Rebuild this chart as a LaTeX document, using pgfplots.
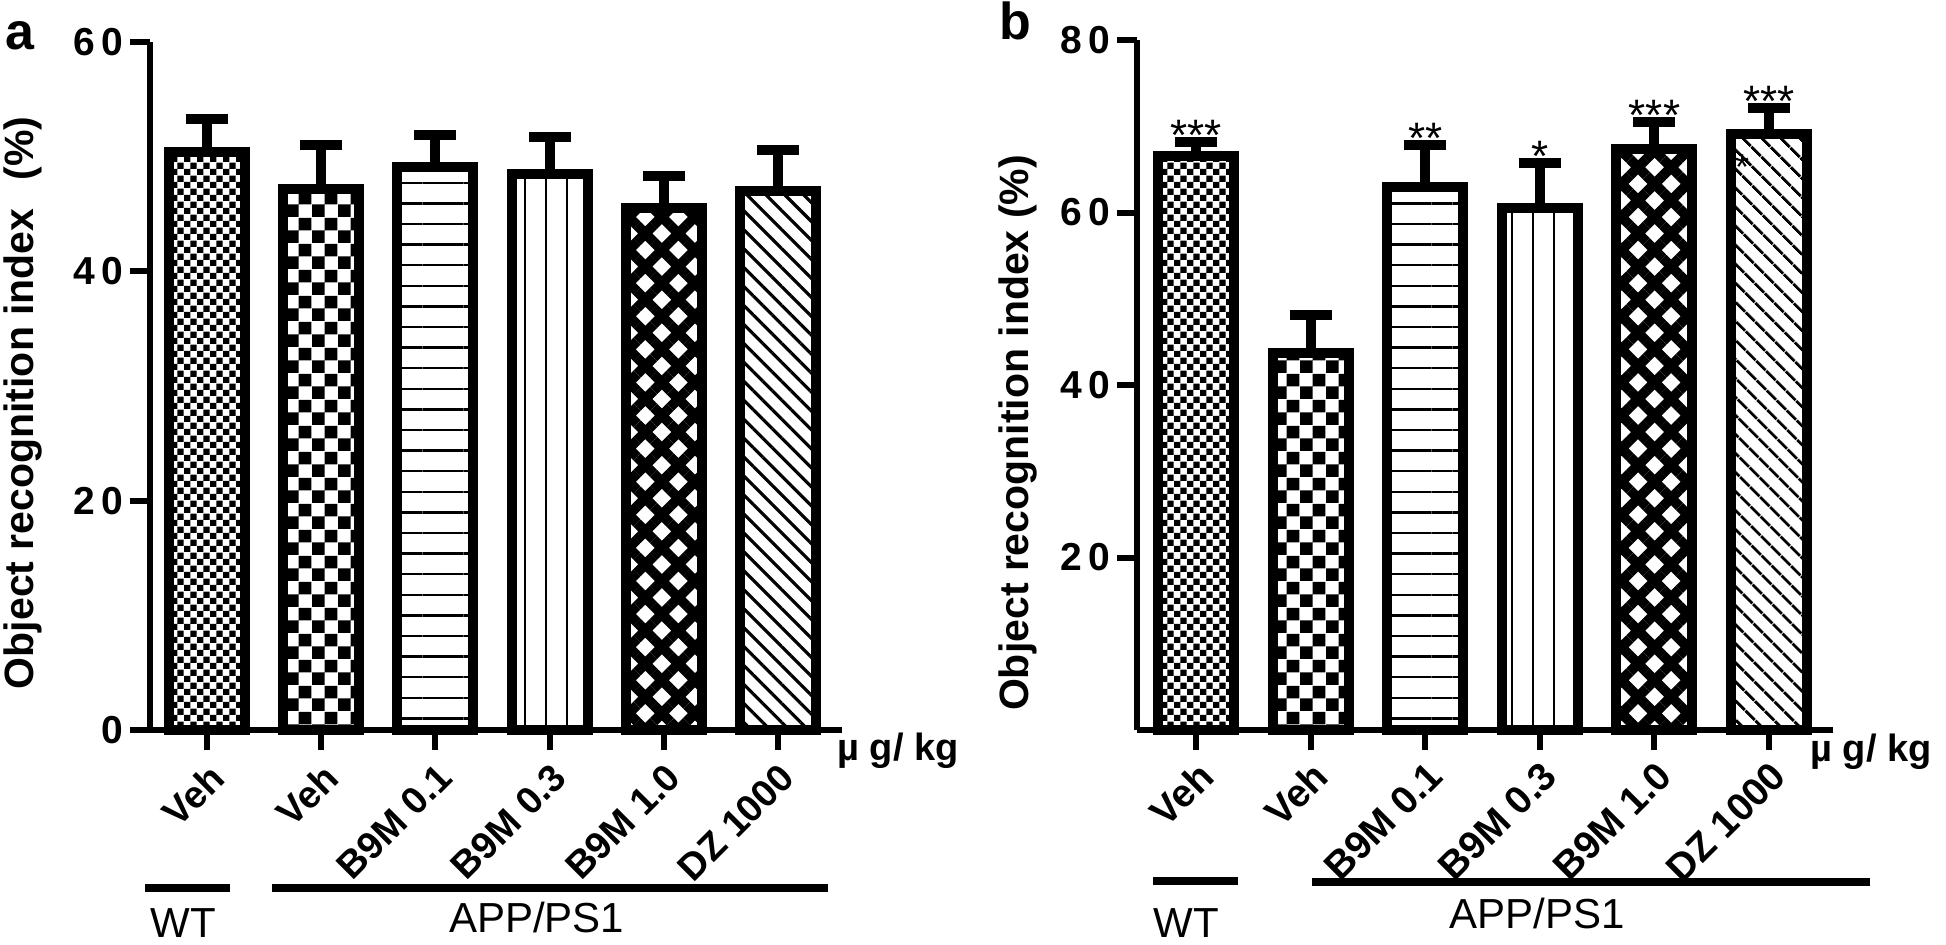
\documentclass[border=0pt]{standalone}
\usepackage{pgfplots}
\pgfplotsset{compat=1.18}
\usepackage{fontspec}
\setmainfont{Liberation Sans}
\usetikzlibrary{patterns,patterns.meta}

\pgfdeclarepatternformonly{finecheck}{\pgfpointorigin}{\pgfqpoint{6.6bp}{6.6bp}}{\pgfqpoint{6.6bp}{6.6bp}}{%
  \pgfpathrectangle{\pgfpointorigin}{\pgfqpoint{3.3bp}{3.3bp}}%
  \pgfpathrectangle{\pgfqpoint{3.3bp}{3.3bp}}{\pgfqpoint{3.3bp}{3.3bp}}%
  \pgfusepath{fill}}
\pgfdeclarepatternformonly{bigcheck}{\pgfpointorigin}{\pgfqpoint{13bp}{13bp}}{\pgfqpoint{13bp}{13bp}}{%
  \pgfpathrectangle{\pgfpointorigin}{\pgfqpoint{6.5bp}{6.5bp}}%
  \pgfpathrectangle{\pgfqpoint{6.5bp}{6.5bp}}{\pgfqpoint{6.5bp}{6.5bp}}%
  \pgfusepath{fill}}

\newcommand\tickfont{\bfseries\fontsize{19.5bp}{22bp}\selectfont}
\newcommand\labfonta{\bfseries\fontsize{19bp}{22bp}\selectfont}
\newcommand\labfontb{\bfseries\fontsize{19.5bp}{22bp}\selectfont}
\newcommand\txtfont{\fontsize{21bp}{24bp}\selectfont}

\pgfplotsset{
  mybar/.style={ybar, bar width=38bp, bar shift=0pt, draw=black, line width=5bp,
    error bars/y dir=plus, error bars/y explicit,
    error bars/error bar style={line width=5bp, black, solid},
    error bars/error mark options={rotate=90, line width=5bp, mark size=10.5bp, black, solid}},
  myaxis/.style={scale only axis, axis x line*=bottom, axis y line*=left,
    axis line style={line width=3bp, black},
    every tick/.style={line width=3bp, black},
    major tick length=10bp, tick align=outside,
    xtick={0,1,2,3,4,5},
    xticklabels={Veh,Veh,B9M 0.1,B9M 0.3,B9M 1.0,DZ 1000},
    yticklabel style={font=\tickfont},
    /pgf/number format/assume math mode=true,
    clip=false, ymin=0},
}

\begin{document}
\begin{tikzpicture}
\path[use as bounding box] (0bp,0bp) rectangle (973bp,-472.5bp);

% ---------------- panel a ----------------
\begin{axis}[myaxis, at={(75bp,-365bp)}, anchor=south west,
  width=346bp, height=344bp, xmin=-0.5, xmax=5.56, ymax=60,
  xticklabel style={yshift=-4bp, rotate=45, anchor=north east, font=\labfonta, inner sep=1bp},
  ytick={0,20,40,60}, yticklabels={0,{2\kern3bp0},{4\kern3bp0},{6\kern3bp0}}]
\addplot[mybar, pattern=finecheck] coordinates {(0,50.4) +- (0,2.9)};
\addplot[mybar, pattern=bigcheck] coordinates {(1,47.2) +- (0,3.8)};
\addplot[mybar, pattern={Lines[angle=0,distance=10.3bp,line width=1.2bp]}] coordinates {(2,49.1) +- (0,2.8)};
\addplot[mybar, pattern={Lines[angle=90,distance=10.5bp,line width=1.4bp]}] coordinates {(3,48.5) +- (0,3.2)};
\addplot[mybar, pattern={Hatch[angle=45,distance=11.7bp,line width=5bp]}] coordinates {(4,45.5) +- (0,2.8)};
\addplot[mybar, pattern={Lines[angle=-45,distance=6.7bp,line width=1.6bp]}] coordinates {(5,47.0) +- (0,3.6)};
\end{axis}

% ---------------- panel b ----------------
\begin{axis}[myaxis, at={(568.5bp,-365bp)}, anchor=south west,
  width=348bp, height=345bp, xmin=-0.515, xmax=5.558, ymax=80,
  xticklabel style={yshift=-3bp, rotate=45, anchor=north east, font=\labfontb, inner sep=1bp},
  ytick={20,40,60,80}, yticklabels={{2\kern3bp0},{4\kern3bp0},{6\kern3bp0},{8\kern3bp0}}]
\addplot[mybar, pattern=finecheck] coordinates {(0,66.5) +- (0,1.7)};
\addplot[mybar, pattern=bigcheck] coordinates {(1,43.7) +- (0,4.4)};
\addplot[mybar, pattern={Lines[angle=0,distance=10.3bp,line width=1.2bp]}] coordinates {(2,63.0) +- (0,4.8)};
\addplot[mybar, pattern={Lines[angle=90,distance=10.5bp,line width=1.4bp]}] coordinates {(3,60.5) +- (0,5.2)};
\addplot[mybar, pattern={Hatch[angle=45,distance=11.7bp,line width=5bp]}] coordinates {(4,67.4) +- (0,3.1)};
\addplot[mybar, pattern={Lines[angle=-45,distance=6.8bp,line width=1.6bp]}] coordinates {(5,69.1) +- (0,3.0)};
\begin{scope}[every node/.style={anchor=base, font=\fontsize{22bp}{24bp}\selectfont, inner sep=0pt, yshift=-4.3bp}]
\node at (axis cs:0,68.2) {***};
\node at (axis cs:2,67.8) {**};
\node at (axis cs:3,65.7) {*};
\node at (axis cs:4,70.5) {***};
\node at (axis cs:5,72.1) {***};
\end{scope}
\node[anchor=base, inner sep=0pt, font=\fontsize{18bp}{20bp}\selectfont] at (axis cs:4.764,63.8) {*};
\end{axis}

% ---------------- annotations ----------------
\node[font=\bfseries\fontsize{26bp}{28bp}\selectfont, inner sep=0pt] at (10bp,-18bp) {a};
\node[font=\bfseries\fontsize{26bp}{28bp}\selectfont, inner sep=0pt] at (507.5bp,-10.5bp) {b};

\node[rotate=90, anchor=base, inner sep=0pt, font=\bfseries\fontsize{20.5bp}{22bp}\selectfont] at (16.5bp,-201.5bp) {Object recognition index\hspace{0.4em} (\%)};
\node[rotate=90, anchor=base, inner sep=0pt, font=\bfseries\fontsize{20.5bp}{22bp}\selectfont] at (514bp,-216.5bp) {Object recognition index (\%)};

\node[anchor=west, inner sep=0pt, font=\labfonta] at (418.5bp,-375.5bp) {µ g/ kg};
\node[anchor=west, inner sep=0pt, font=\labfonta] at (905bp,-376bp) {µ g/ kg};

\draw[line width=4bp] (72.5bp,-443.85bp) -- (115bp,-443.85bp);
\draw[line width=4bp] (136bp,-443.85bp) -- (414bp,-443.85bp);
\node[anchor=base, inner sep=0pt, font=\txtfont] at (91.5bp,-468.5bp) {WT};
\node[anchor=base, inner sep=0pt, font=\txtfont] at (268.3bp,-466bp) {APP/PS1};

\draw[line width=4bp] (576.5bp,-440.5bp) -- (619bp,-440.5bp);
\draw[line width=4bp] (656bp,-441bp) -- (935bp,-441bp);
\node[anchor=base, inner sep=0pt, font=\txtfont] at (593bp,-468.5bp) {WT};
\node[anchor=base, inner sep=0pt, font=\txtfont] at (768.5bp,-464bp) {APP/PS1};
\end{tikzpicture}
\end{document}
